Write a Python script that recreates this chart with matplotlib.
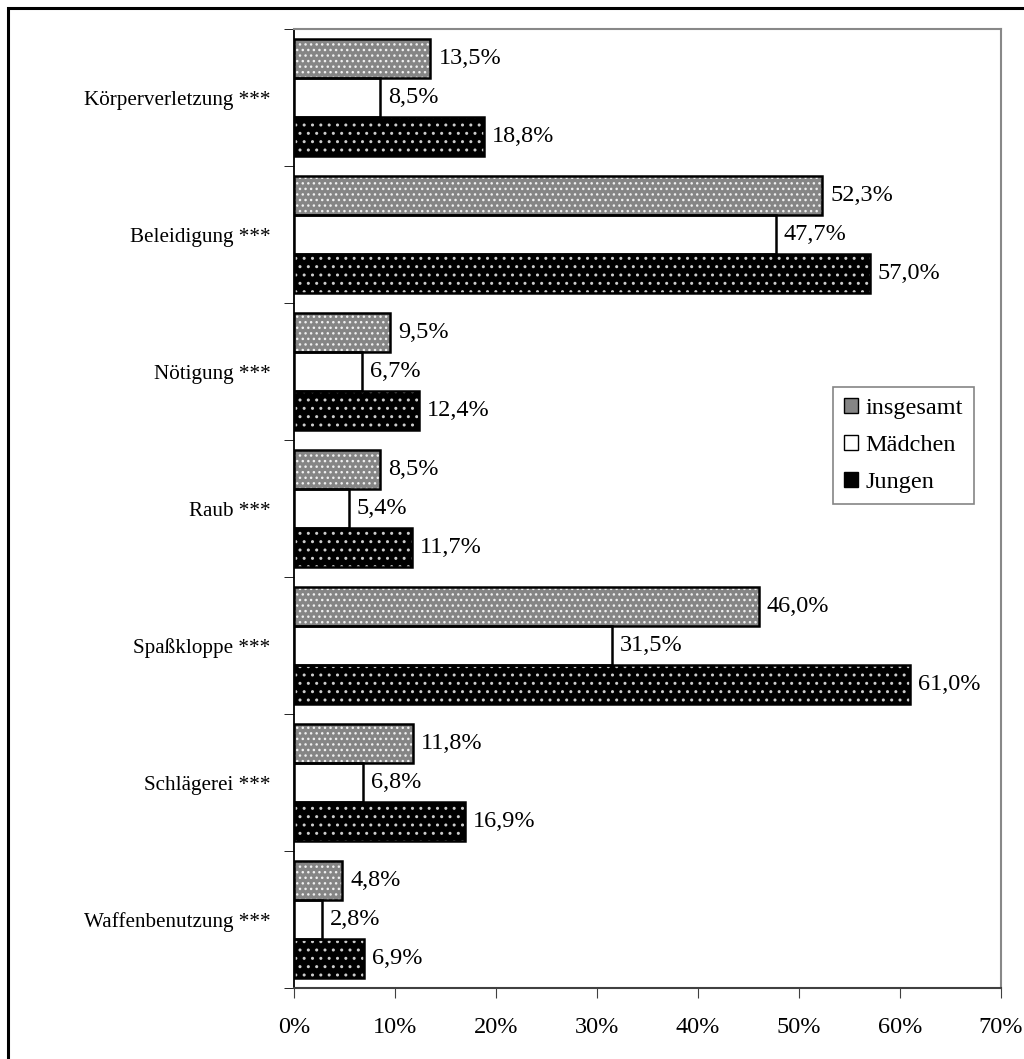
import matplotlib.pyplot as plt
import numpy as np
from matplotlib.patches import Rectangle, Patch

plt.rcParams['font.family'] = ['Liberation Serif', 'DejaVu Serif']

categories = ['Körperverletzung ***', 'Beleidigung ***', 'Nötigung ***', 'Raub ***',
              'Spaßkloppe ***', 'Schlägerei ***', 'Waffenbenutzung ***']
insgesamt = [13.5, 52.3, 9.5, 8.5, 46.0, 11.8, 4.8]
maedchen = [8.5, 47.7, 6.7, 5.4, 31.5, 6.8, 2.8]
jungen = [18.8, 57.0, 12.4, 11.7, 61.0, 16.9, 6.9]
series_names = ['insgesamt', 'Mädchen', 'Jungen']

fig = plt.figure(figsize=(10.24, 10.59), dpi=100)
# outer frame
fig.patches.append(Rectangle((8 / 1024, -0.1), 1.2, 1 - 8 / 1059 + 0.1, transform=fig.transFigure,
                             fill=False, edgecolor='black', linewidth=2.2))
ax = fig.add_axes([294 / 1024, 1 - 988 / 1059, 707 / 1024, 959 / 1059])

n = len(categories)
y = np.arange(n)
bh = 0.285
styles = [
    dict(face='#858585', hatch='...', hcol='#f0f0f0'),
    dict(face='white', hatch=None, hcol='white'),
    dict(face='black', hatch='..', hcol='#cccccc'),
]
for k, vals in enumerate([insgesamt, maedchen, jungen]):
    pos = y + (k - 1) * bh
    st = styles[k]
    ax.barh(pos, vals, height=bh, color=st['face'], edgecolor=st['hcol'],
            hatch=st['hatch'], linewidth=0, zorder=2)
    ax.barh(pos, vals, height=bh, fill=False, edgecolor='black', linewidth=1.8, zorder=3)
    for p, v in zip(pos, vals):
        ax.text(v + 0.8, p, f'{v:.1f}%'.replace('.', ','), va='center', ha='left',
                fontsize=17.5, zorder=4)

ax.set_ylim(n - 0.5, -0.5)
ax.set_xlim(0, 70)
ax.set_xticks(np.arange(0, 71, 10))
ax.set_xticklabels([f'{t}%' for t in range(0, 71, 10)], fontsize=17.5)
ax.set_yticks(y)
ax.set_yticklabels(categories, fontsize=15.2)
ax.set_yticks(np.arange(-0.5, n, 1), minor=True)
ax.tick_params(axis='y', which='major', length=0, pad=17)
ax.tick_params(axis='y', which='minor', length=7, direction='out', color='black')
ax.tick_params(axis='x', length=7, direction='out', color='#404040', pad=14)

ax.spines['left'].set_color('black')
ax.spines['left'].set_linewidth(1.3)
ax.spines['bottom'].set_color('#404040')
ax.spines['bottom'].set_linewidth(1.5)
for s in ['top', 'right']:
    ax.spines[s].set_color('#888888')
    ax.spines[s].set_linewidth(1.5)

handles = [Patch(facecolor=styles[i]['face'], edgecolor='black', label=series_names[i])
           for i in range(3)]
leg = ax.legend(handles=handles, loc='upper left', bbox_to_anchor=(0.762, 0.627),
                fontsize=17.5, frameon=True, fancybox=False, edgecolor='#666666',
                handlelength=0.6, handleheight=0.6, handletextpad=0.3, labelspacing=0.65,
                borderpad=0.45, borderaxespad=0)
leg.get_frame().set_linewidth(1.2)

fig.savefig('out.png', dpi=100)
